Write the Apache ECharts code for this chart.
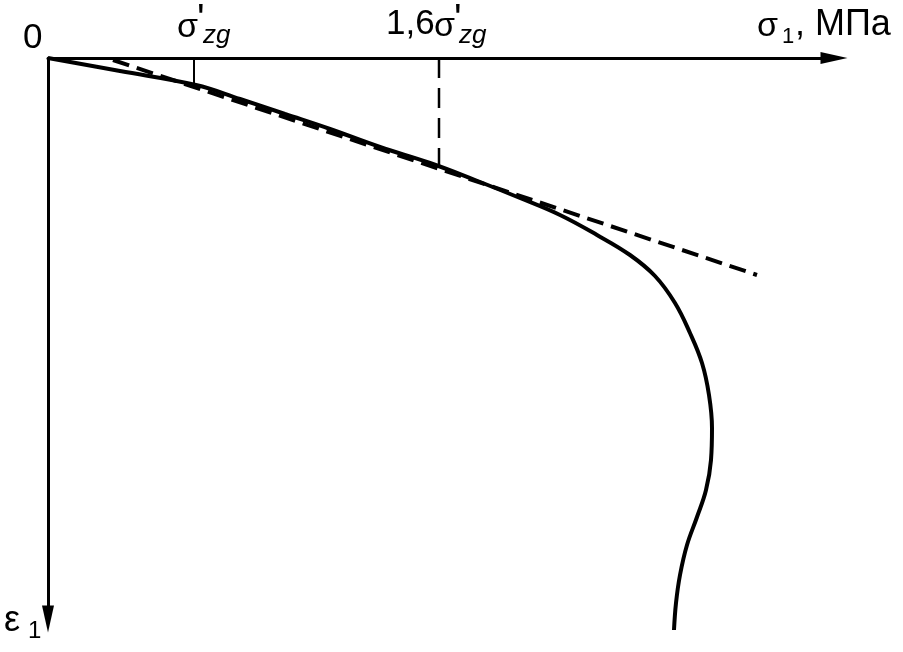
<!DOCTYPE html>
<html><head><meta charset="utf-8">
<script src="https://cdn.jsdelivr.net/npm/echarts@6/dist/echarts.min.js"></script>
<style>html,body{margin:0;padding:0;background:#fff}#c{width:903px;height:652px}</style>
</head><body><div id="c"></div>
<script>
// Compression curve: stress sigma_1 (x) vs strain epsilon_1 (y, downwards), arbitrary units
const curveSigma = [0, 72, 148, 192, 237, 282, 332, 382, 427, 472, 512, 549, 582, 607, 627, 642, 654, 661, 664, 663, 658, 649, 639, 632, 628, 626];
const curveEps   = [0, 13, 27, 41, 56, 71, 89, 105, 122, 140, 157, 177, 197, 218, 245, 275, 305, 337, 370, 402, 432, 459, 487, 517, 545, 572];
// Secant (dashed) line
const secantSigma = [65, 709];
const secantEps   = [2, 217];
// Reference stresses
const sigmaZg = 146, sigmaZgEps = 26;
const sigma16 = 391, sigma16Eps = 107;
// Axis extents
const xMax = 786, yMax = 561;

const font = '"Liberation Sans", Arial, sans-serif';
function zip(a, b) { return a.map((v, i) => [v, b[i]]); }
function txt(x, y, s, size, italic) {
  return { type: 'text', x: x, y: y, z: 100, style: { text: s, fontSize: size, fontFamily: font, fontStyle: italic ? 'italic' : 'normal', fill: '#000', verticalAlign: 'middle', align: 'left' } };
}
const chart = echarts.init(document.getElementById('c'), null, { renderer: 'canvas' });
const lineBase = { color: '#000', width: 3 };
chart.setOption({
  animation: false,
  backgroundColor: '#fff',
  grid: { left: 48, top: 58, width: xMax, height: yMax },
  xAxis: { type: 'value', position: 'top', min: 0, max: xMax,
    axisLine: { show: true, symbol: ['none', 'triangle'], symbolSize: [12, 27], lineStyle: lineBase },
    axisTick: { show: false }, axisLabel: { show: false }, splitLine: { show: false } },
  yAxis: { type: 'value', inverse: true, min: 0, max: yMax,
    axisLine: { show: true, symbol: ['triangle', 'none'], symbolSize: [12, 27], lineStyle: lineBase },
    axisTick: { show: false }, axisLabel: { show: false }, splitLine: { show: false } },
  series: [
    { type: 'line', data: zip(curveSigma, curveEps), smooth: 0.4, showSymbol: false, clip: false, lineStyle: { color: '#000', width: 4 } },
    { type: 'line', data: zip(secantSigma, secantEps), showSymbol: false, clip: false, lineStyle: { color: '#000', width: 4, type: [17, 8] } },
    { type: 'line', data: [[sigmaZg, 0], [sigmaZg, sigmaZgEps]], showSymbol: false, lineStyle: { color: '#000', width: 2 } },
    { type: 'line', data: [[sigma16, 0], [sigma16, sigma16Eps]], showSymbol: false, lineStyle: { color: '#000', width: 2.5, type: [20, 10] } }
  ],
  graphic: [
    txt(23, 38, '0', 35),
    txt(177, 28, 'σ', 34),
    txt(197, 21, "'", 40),
    txt(203, 36, 'zg', 26, true),
    txt(386, 24, '1,6', 35),
    txt(434, 27, 'σ', 34),
    txt(454, 21, "'", 40),
    txt(459, 36, 'zg', 26, true),
    txt(757, 27, 'σ', 34),
    txt(782, 37, '1', 22),
    txt(795, 25, ', МПа', 36),
    txt(4, 621, 'ε', 36),
    txt(28, 631, '1', 24)
  ]
});
</script></body></html>
